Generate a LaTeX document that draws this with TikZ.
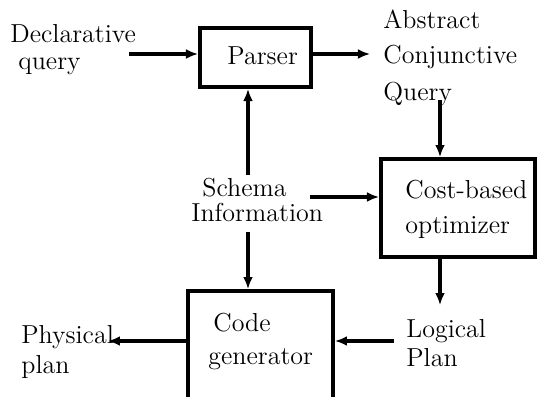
\documentclass[tikz,border=0pt]{standalone}
\usetikzlibrary{arrows.meta}
\begin{document}
\begin{tikzpicture}[x=0.5pt,y=-0.5pt,
  box/.style={draw, line width=2pt, inner sep=0pt, minimum width=#1},
  lbl/.style={anchor=base west, inner sep=0pt, font=\fontsize{13pt}{15.6pt}\selectfont},
  flow/.style={line width=2pt, -{Latex[length=6pt,width=5pt]}}]
\useasboundingbox (0,0) rectangle (538,397);

% processing boxes
\node[box=55.5pt, minimum height=29.5pt] (parser) at (255.5,57.5) {};
\node[box=77pt,   minimum height=49pt]   (cost)   at (458,208)   {};
\node[box=72.5pt, minimum height=84.5pt] (code)   at (260.5,375.5) {};

% box texts
\node[lbl] (tparser) at (227,64)  {Parser};
\node[lbl] (tcost1)  at (405,198) {Cost-based};
\node[lbl] (tcost2)  at (405,233) {optimizer};
\node[lbl] (tcode1)  at (213,331) {Code};
\node[lbl] (tcode2)  at (208,364) {generator};

% free texts
\node[lbl] (decl1) at (10,42)   {Declarative};
\node[lbl] (decl2) at (18,69)   {query};
\node[lbl] (acq1)  at (383,28)  {Abstract};
\node[lbl] (acq2)  at (383,63)  {Conjunctive};
\node[lbl] (acq3)  at (383,100) {Query};
\node[lbl] (sch1)  at (202,196) {Schema};
\node[lbl] (sch2)  at (191,221) {Information};
\node[lbl] (lp1)   at (406,337) {Logical};
\node[lbl] (lp2)   at (406,366) {Plan};
\node[lbl] (pp1)   at (21,343)  {Physical};
\node[lbl] (pp2)   at (21,373)  {plan};

% free ends of the connectors
\coordinate (declEnd)  at (129,54);
\coordinate (acqEnd)   at (370,54);
\coordinate (qryEnd)   at (440,100);
\coordinate (schR)     at (310,197);
\coordinate (schUp)    at (248,175);
\coordinate (schDn)    at (248,232);
\coordinate (lpTop)    at (440,305);
\coordinate (lpLeft)   at (394,341);
\coordinate (ppEnd)    at (108,341);

% connectors
\draw[flow] (declEnd) -- (declEnd -| parser.west);
\draw[flow] (parser.east |- acqEnd) -- (acqEnd);
\draw[flow] (qryEnd) -- (qryEnd |- cost.north);
\draw[flow] (schR) -- (schR -| cost.west);
\draw[flow] (schUp) -- (schUp |- parser.south);
\draw[flow] (schDn) -- (schDn |- code.north);
\draw[flow] (cost.south -| lpTop) -- (lpTop);
\draw[flow] (lpLeft) -- (lpLeft -| code.east);
\draw[flow] (code.west |- ppEnd) -- (ppEnd);
\end{tikzpicture}
\end{document}
